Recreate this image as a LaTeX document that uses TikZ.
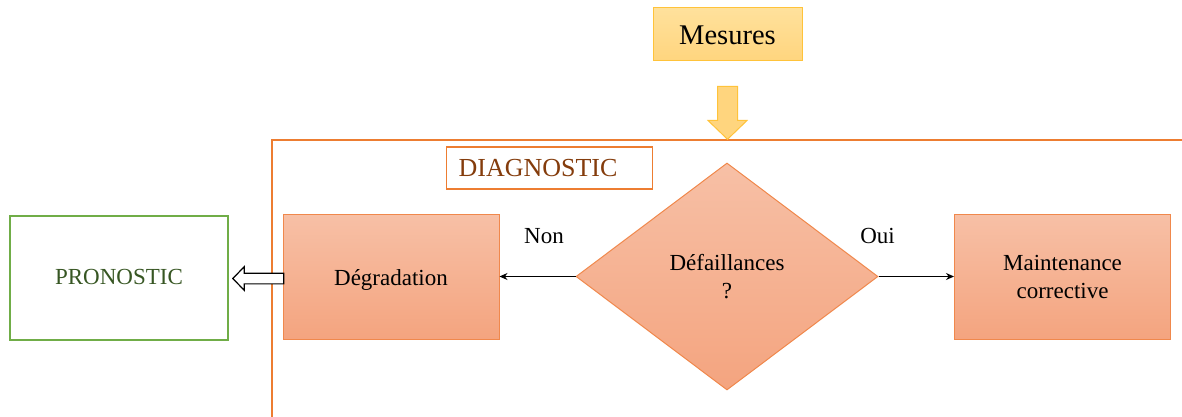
\documentclass[tikz,border=0pt]{standalone}
\usepackage{fontspec}
\setmainfont{Liberation Serif}
\usetikzlibrary{shapes.geometric,shapes.arrows,arrows.meta}
\definecolor{frameor}{HTML}{ED7D31}
\definecolor{boxtop}{HTML}{F7C0A6}
\definecolor{boxbot}{HTML}{F4A47F}
\definecolor{boxline}{HTML}{F0884C}
\definecolor{mestop}{HTML}{FFE19C}
\definecolor{mesbot}{HTML}{FFD57E}
\definecolor{mesline}{HTML}{FFC33A}
\definecolor{diagtxt}{HTML}{843C0C}
\definecolor{progreen}{HTML}{70AD47}
\definecolor{protxt}{HTML}{375623}
\begin{document}
\begin{tikzpicture}[x=1pt,y=-1pt,
  mainfont/.style={font=\fontsize{23}{28}\selectfont},
  procbox/.style={draw=boxline, line width=1pt, top color=boxtop, bottom color=boxbot,
    minimum width=216pt, minimum height=125pt, inner sep=0pt, align=center, mainfont},
  flowarrow/.style={-{Stealth[length=8pt,width=7pt]}, line width=0.9pt, black},
  lbl/.style={mainfont, inner sep=0pt, anchor=base}
]
\useasboundingbox (0,0) rectangle (1182,417);
% big frame
\draw[frameor, line width=1.3pt] (272,417) -- (272,140) -- (1182,140);
% Mesures
\node[draw=mesline, line width=1pt, top color=mestop, bottom color=mesbot,
  minimum width=149pt, minimum height=53pt, inner sep=0pt,
  text height=21pt, text depth=0pt,
  font=\fontsize{28.5}{32}\selectfont] (mes) at (727.5,34.5) {Mesures};
% down block arrow
\node[single arrow, draw=mesline, line width=1pt, fill=mesbot,
  minimum height=53pt, inner sep=9.5pt, single arrow head extend=9.5pt,
  single arrow tip angle=92, shape border rotate=270, anchor=tip] (down) at (727.5,140) {};
% DIAGNOSTIC label
\node[draw=frameor, line width=1.2pt, text width=182pt, minimum height=42pt,
  inner xsep=12pt, inner ysep=0pt, align=left, anchor=west,
  text=diagtxt, font=\fontsize{26}{30}\selectfont] (diag) at (446,168) {DIAGNOSTIC};
% boxes
\node[procbox, text height=17pt, text depth=0pt] (deg) at (391,276.5) {Dégradation};
\node[procbox] (mc) at (1062.5,276.5) {Maintenance\\corrective};
\node[diamond, draw=boxline, line width=1pt, top color=boxtop, bottom color=boxbot,
  minimum width=302pt, minimum height=227pt, aspect=1.33, inner sep=0pt,
  align=center, mainfont] (def) at (727,276.5) {Défaillances\\?};
% PRONOSTIC
\node[draw=progreen, line width=1.3pt, minimum width=218pt, minimum height=124pt,
  inner sep=0pt, text height=12pt, text depth=0pt,
  text=protxt, mainfont] (pro) at (119,278) {PRONOSTIC};
% hollow arrow
\node[single arrow, draw=black, line width=1.2pt, fill=white,
  minimum height=51pt, inner sep=4.75pt, single arrow head extend=6.5pt,
  single arrow tip angle=92, shape border rotate=180, anchor=tip] (hollow) at (232,278.5) {};
% connectors
\draw[flowarrow] (def.west) -- (deg.east);
\draw[flowarrow] (def.east) -- (mc.west);
\node[lbl] (non) at (544,243) {Non};
\node[lbl] (oui) at (877.5,243) {Oui};
\end{tikzpicture}
\end{document}
